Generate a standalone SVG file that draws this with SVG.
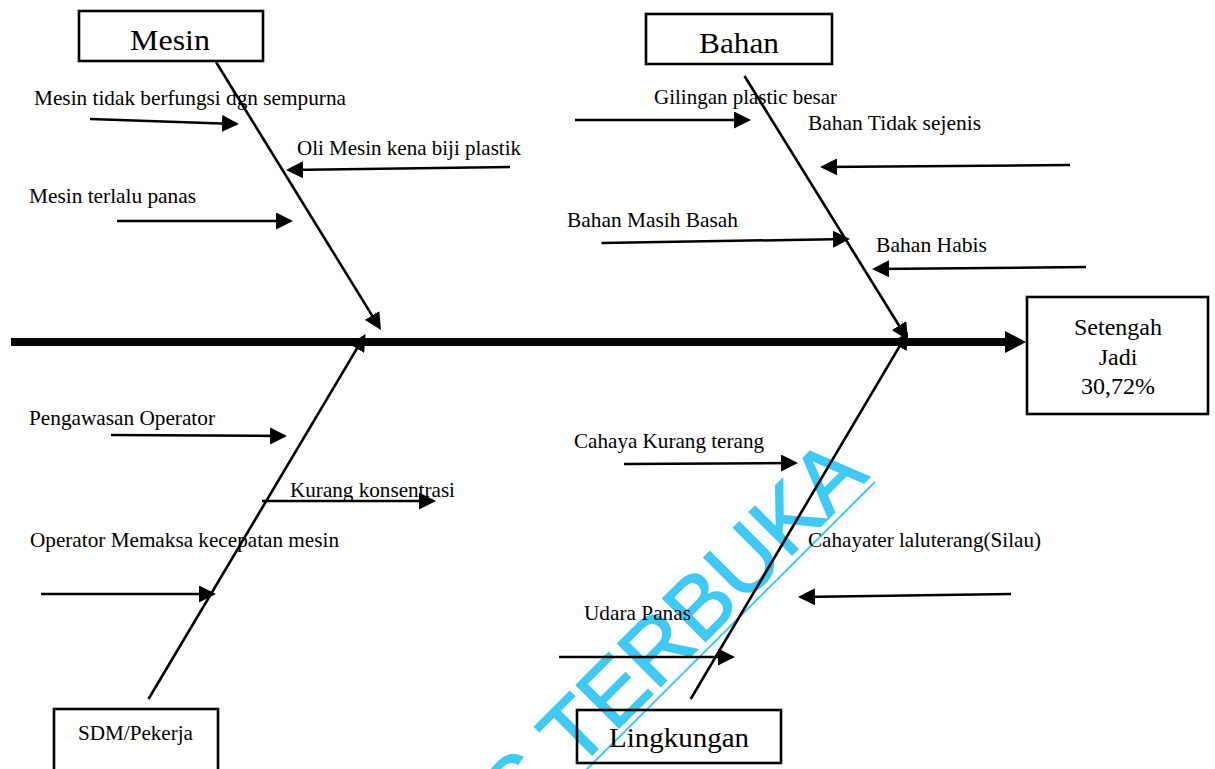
<svg xmlns="http://www.w3.org/2000/svg" width="1215" height="769" viewBox="0 0 1215 769">
<style>
  .box{fill:none;stroke:#000;stroke-width:2.6}
  .t{font-family:"Liberation Serif","Times New Roman",serif;fill:#000}
  .s{font-size:21px}
  .h{font-size:30px}
  .r{font-size:24px;text-anchor:middle}
  .ln{stroke:#000;stroke-width:2.5;fill:none;marker-end:url(#ah)}
  .br{stroke:#000;stroke-width:2.6;fill:none;marker-end:url(#ah)}
  .wm{font-family:"Liberation Sans",Arial,sans-serif;font-size:88px;fill:#3fc9f5;stroke:#3fc9f5;stroke-width:1.5}
</style>
<defs>
  <marker id="ah" markerUnits="userSpaceOnUse" markerWidth="17" markerHeight="17" viewBox="0 0 17 17" refX="14" refY="8.5" orient="auto">
    <path d="M0,0 L17,8.5 L0,17 z" fill="#000"/>
  </marker>
  <marker id="big" markerUnits="userSpaceOnUse" markerWidth="21" markerHeight="22" viewBox="0 0 21 22" refX="3" refY="11" orient="auto">
    <path d="M0,0 L21,11 L0,22 z" fill="#000"/>
  </marker>
</defs>
<rect width="1215" height="769" fill="#fff"/>

<g id="watermark">
  <text class="wm" transform="translate(870,477) rotate(-45)" text-anchor="end">S TERBUKA</text>
  <line x1="560" y1="796" x2="875" y2="482" stroke="#3fc9f5" stroke-width="2"/>
</g>

<g id="connectors">
  <line x1="11" y1="342" x2="1008" y2="342" stroke="#000" stroke-width="8" marker-end="url(#big)"/>
  <line class="br" x1="216" y1="62" x2="379.4" y2="327.4"/>
  <line class="br" x1="744.5" y1="76" x2="906.4" y2="337.5"/>
  <line class="br" x1="148.5" y1="699" x2="364" y2="336.6"/>
  <line class="br" x1="690.7" y1="699" x2="906.5" y2="334.6"/>
  <line class="ln" x1="90" y1="119" x2="236" y2="123.9"/>
  <line class="ln" x1="510" y1="167" x2="289" y2="170"/>
  <line class="ln" x1="117" y1="221" x2="290" y2="221"/>
  <line class="ln" x1="575" y1="120" x2="748" y2="120"/>
  <line class="ln" x1="1070" y1="165" x2="823" y2="167"/>
  <line class="ln" x1="601.5" y1="243" x2="847" y2="239"/>
  <line class="ln" x1="1086" y1="267" x2="875" y2="269"/>
  <line class="ln" x1="111" y1="435" x2="284" y2="436"/>
  <line class="ln" x1="262" y1="501" x2="433" y2="501"/>
  <line class="ln" x1="41" y1="594" x2="213" y2="594"/>
  <line class="ln" x1="624" y1="464" x2="795" y2="463"/>
  <line class="ln" x1="1011" y1="594" x2="801" y2="597"/>
  <line class="ln" x1="559" y1="657" x2="732" y2="657"/>
</g>

<g id="mesin">
  <rect class="box" x="79" y="11" width="184" height="50"/>
  <text class="t h" x="130" y="50" textLength="80" lengthAdjust="spacingAndGlyphs">Mesin</text>
</g>
<g id="bahan">
  <rect class="box" x="646" y="14" width="186" height="50"/>
  <text class="t h" x="699" y="53" textLength="80" lengthAdjust="spacingAndGlyphs">Bahan</text>
</g>
<g id="sdm">
  <rect class="box" x="54" y="709" width="164" height="100"/>
  <text class="t" font-size="20" x="78" y="740" textLength="115" lengthAdjust="spacingAndGlyphs">SDM/Pekerja</text>
</g>
<g id="lingkungan">
  <rect class="box" x="577" y="710" width="204" height="53"/>
  <text class="t" font-size="28" x="609" y="747" textLength="140" lengthAdjust="spacingAndGlyphs">Lingkungan</text>
</g>
<g id="result">
  <rect class="box" x="1027" y="297" width="181" height="117"/>
  <text class="t r" x="1118" y="335">Setengah</text>
  <text class="t r" x="1118" y="365">Jadi</text>
  <text class="t r" x="1118" y="394">30,72%</text>
</g>

<g id="causes">
  <text class="t s" x="34" y="105" textLength="312" lengthAdjust="spacingAndGlyphs">Mesin tidak berfungsi dgn sempurna</text>
  <text class="t s" x="297" y="155" textLength="224" lengthAdjust="spacingAndGlyphs">Oli Mesin kena biji plastik</text>
  <text class="t s" x="29" y="203" textLength="167" lengthAdjust="spacingAndGlyphs">Mesin terlalu panas</text>
  <text class="t s" x="654" y="104" textLength="183" lengthAdjust="spacingAndGlyphs">Gilingan plastic besar</text>
  <text class="t s" x="808" y="130" textLength="173" lengthAdjust="spacingAndGlyphs">Bahan Tidak sejenis</text>
  <text class="t s" x="567" y="227" textLength="171" lengthAdjust="spacingAndGlyphs">Bahan Masih Basah</text>
  <text class="t s" x="876" y="252" textLength="111" lengthAdjust="spacingAndGlyphs">Bahan Habis</text>
  <text class="t s" x="29" y="425" textLength="186" lengthAdjust="spacingAndGlyphs">Pengawasan Operator</text>
  <text class="t s" x="290" y="497" textLength="165" lengthAdjust="spacingAndGlyphs">Kurang konsentrasi</text>
  <text class="t s" x="30" y="547" textLength="309" lengthAdjust="spacingAndGlyphs">Operator Memaksa kecepatan mesin</text>
  <text class="t s" x="574" y="448" textLength="190" lengthAdjust="spacingAndGlyphs">Cahaya Kurang terang</text>
  <text class="t s" x="808" y="547" textLength="233" lengthAdjust="spacingAndGlyphs">Cahayater laluterang(Silau)</text>
  <text class="t s" x="584" y="620" textLength="107" lengthAdjust="spacingAndGlyphs">Udara Panas</text>
</g>
</svg>
